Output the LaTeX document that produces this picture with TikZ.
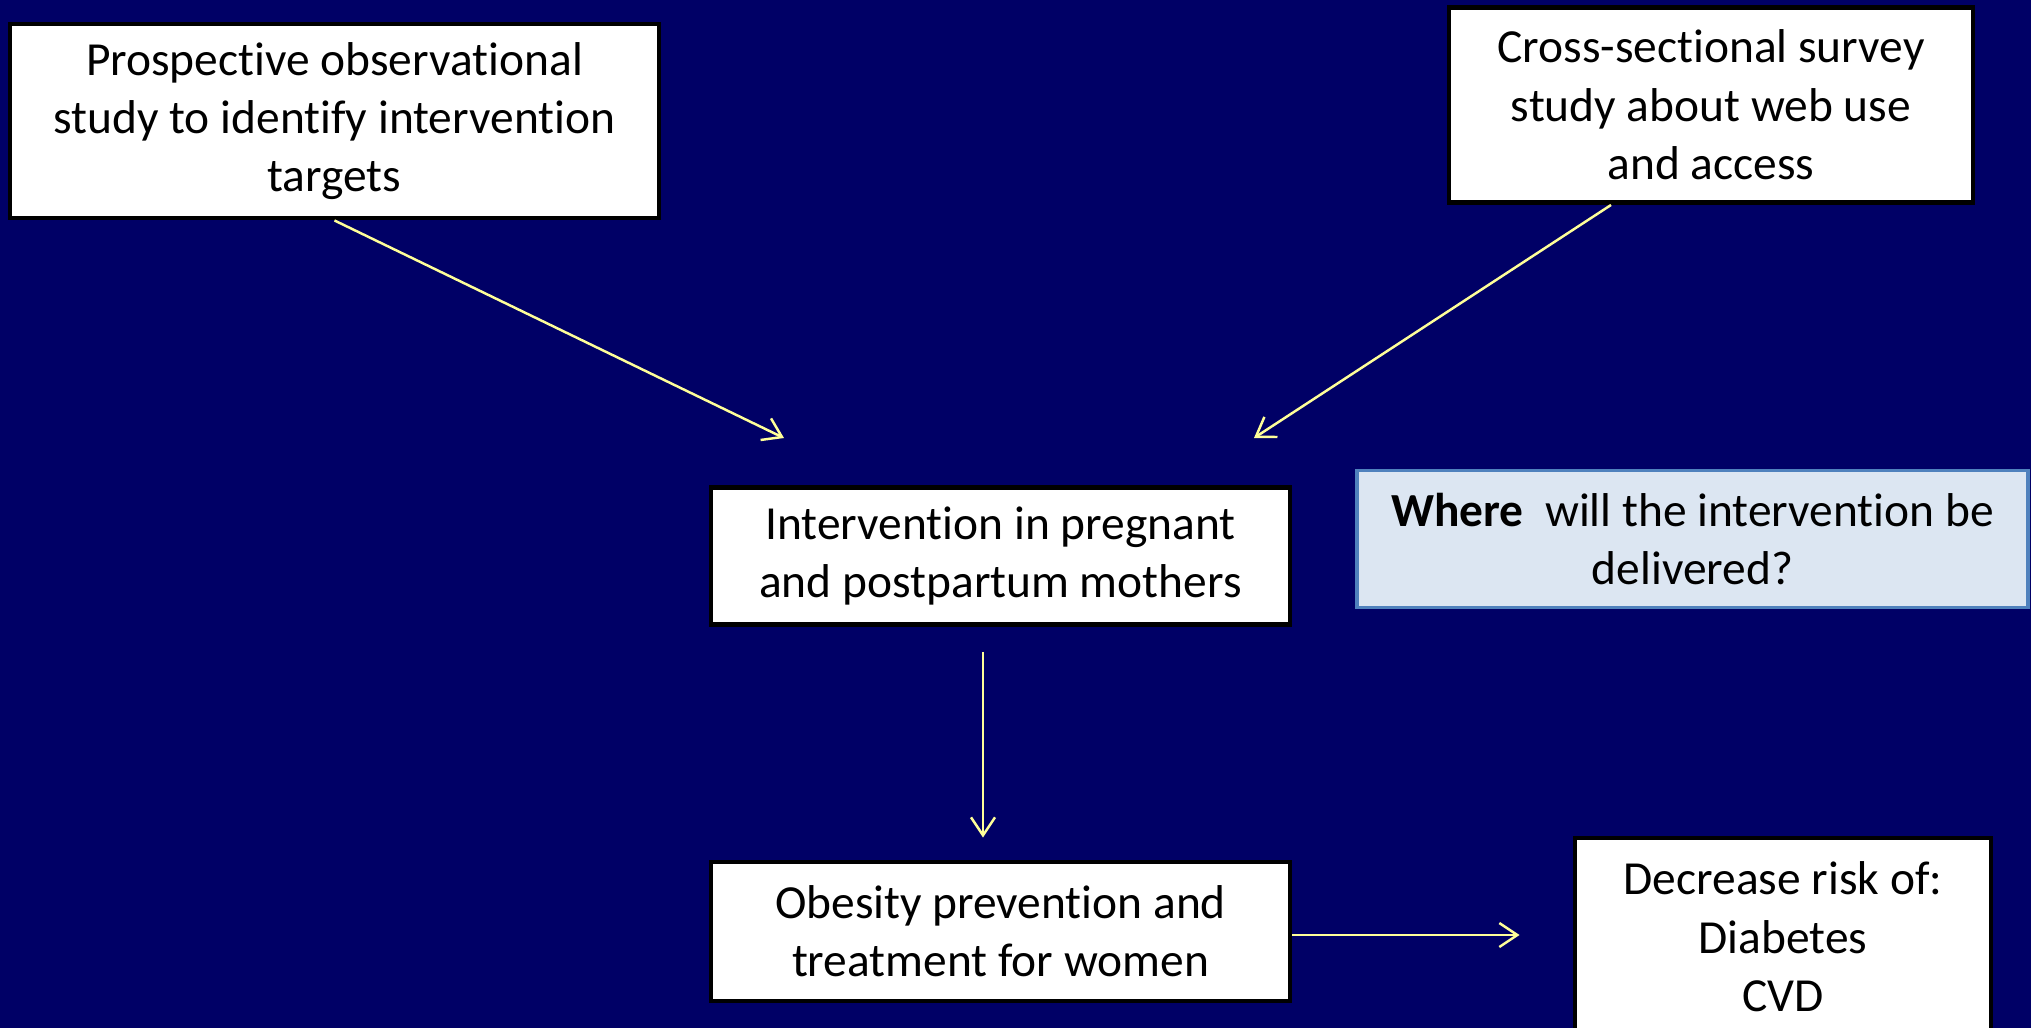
\documentclass[tikz,border=0pt]{standalone}
\usepackage{fontspec}
\setmainfont{Carlito}[Ligatures=NoCommon]
\usetikzlibrary{arrows.meta,positioning,calc}
\definecolor{Navy}{RGB}{0,0,102}
\definecolor{PaleYellow}{RGB}{255,255,153}
\definecolor{BoxBlue}{RGB}{220,230,242}
\definecolor{EdgeBlue}{RGB}{79,129,189}

\begin{document}
\begin{tikzpicture}[
	box/.style={draw=black, line width=1.4pt, fill=white, align=center, inner sep=0pt,
		font=\fontsize{13.5}{16.6}\selectfont},
	qbox/.style={box, draw=EdgeBlue, line width=1.1pt, fill=BoxBlue},
	arr/.style={-{Straight Barb[length=1.8mm,width=2.4mm]}, PaleYellow, line width=0.7pt}
]
	\useasboundingbox (0,0) rectangle (20.31,-10.27);
	\fill[Navy] (-0.2,0.2) rectangle (20.51,-10.47);
	\node[box, minimum width=6.49cm, minimum height=1.94cm] (study) at (3.345,-1.21)
		{Prospective observational\\study to identify intervention\\targets};
	\node[box, minimum width=5.24cm, minimum height=1.95cm] (survey) at (17.11,-1.05)
		{Cross-sectional survey\\study about web use\\and access};
	\node[box, minimum width=5.79cm, minimum height=1.37cm] (mothers) at (10.005,-5.56)
		{Intervention in pregnant\\and postpartum mothers};
	\node[qbox, minimum width=6.71cm, minimum height=1.37cm] (where) at (16.925,-5.39)
		{\textbf{Where}\ \ will the intervention be\\delivered?};
	\node[box, minimum width=5.79cm, minimum height=1.39cm] (women) at (10.005,-9.315)
		{Obesity prevention and\\treatment for women};
	\node[box, minimum width=4.16cm, minimum height=1.98cm] (risk) at (17.83,-9.37)
		{Decrease risk of:\\Diabetes\\CVD};
	\coordinate (tip1) at (7.84,-4.38);
	\coordinate (tip2) at (12.54,-4.38);
	\draw[arr] (study.south) -- (tip1);
	\draw[arr] (survey.225) -- (tip2);
	\draw[arr, shorten <=0.25cm, shorten >=0.22cm] ([xshift=-0.175cm]mothers.south) -- ([xshift=-0.175cm]women.north);
	\draw[arr, shorten >=0.53cm] ([yshift=-0.035cm]women.east) -- ([yshift=-0.035cm]women.east -| risk.west);
\end{tikzpicture}
\end{document}
